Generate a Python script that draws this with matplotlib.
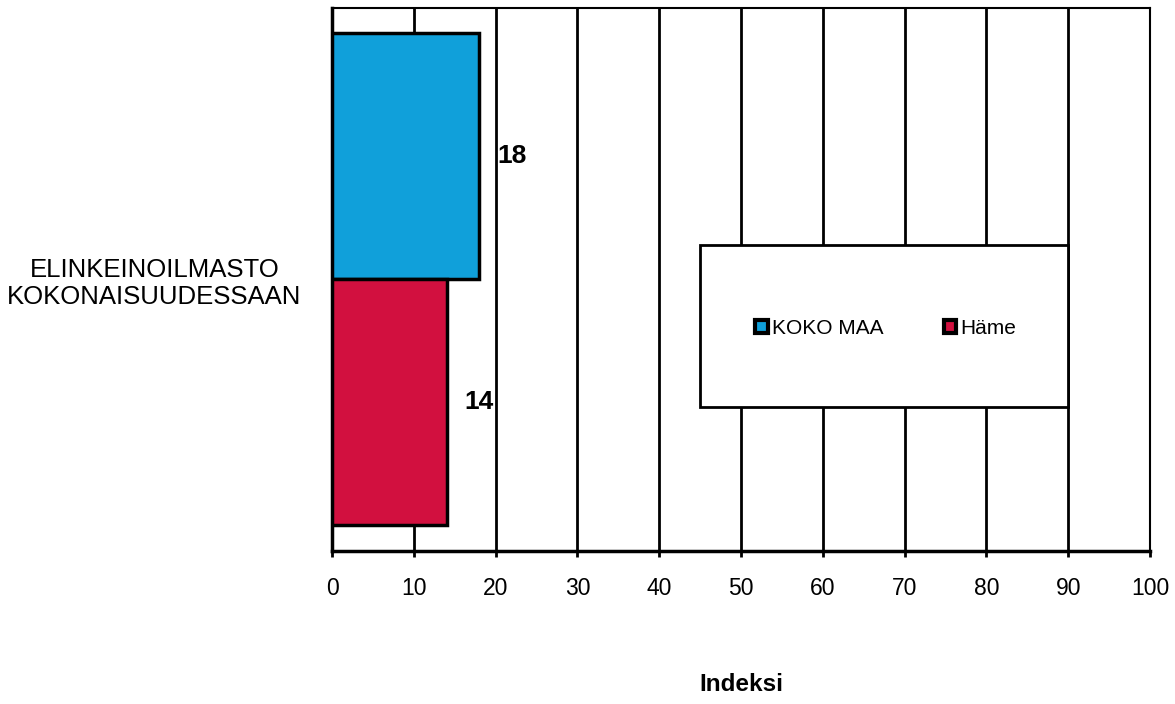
import matplotlib.pyplot as plt
from matplotlib.patches import Patch, Rectangle

plt.rcParams['font.family'] = ['Liberation Sans', 'DejaVu Sans']

category = "ELINKEINOILMASTO\nKOKONAISUUDESSAAN"
series = ["KOKO MAA", "Häme"]
values = [18, 14]
colors = ["#10A0DA", "#D2103F"]
xticks = list(range(0, 101, 10))

fig = plt.figure(figsize=(11.75, 7.04), dpi=100)
ax = fig.add_axes([0.2826, 0.2173, 0.6961, 0.7713])

# top series drawn at y=1, second at y=0
ypos = [1, 0]
for y, v, c, name in zip(ypos, values, colors, series):
    ax.barh(y, v, height=1.0, color=c, edgecolor='black', linewidth=2.5, zorder=3, label=name)
    ax.annotate(str(v), xy=(v, y), xytext=(18, 0), textcoords='offset pixels',
                ha='left', va='center', fontsize=19, fontweight='bold', zorder=4)

ax.set_xlim(0, 100)
ax.set_ylim(-0.606, 1.602)
ax.set_xticks(xticks)
ax.tick_params(axis='x', direction='out', length=4, width=2, pad=15, labelsize=16.5)
ax.set_yticks([0.5])
ax.set_yticklabels([category], fontsize=18.5, multialignment='center')
ax.tick_params(axis='y', length=0, pad=22)

for x in xticks[1:]:
    ax.axvline(x, color='black', linewidth=2, zorder=1)

ax.spines['bottom'].set_linewidth(2.5)
ax.spines['left'].set_linewidth(2.5)
ax.spines['top'].set_linewidth(1.5)
ax.spines['right'].set_linewidth(1.5)

ax.set_xlabel("Indeksi", fontsize=17.5, fontweight='bold', labelpad=52)

# legend box
box = Rectangle((0.45, 0.265), 0.45, 0.2985, transform=ax.transAxes,
                facecolor='white', edgecolor='black', linewidth=2, zorder=5)
ax.add_patch(box)
handles = [Patch(facecolor=c, edgecolor='black', linewidth=3) for c in colors]
leg = ax.legend(handles, series, loc='center', bbox_to_anchor=(0.677, 0.4107),
                ncol=2, frameon=False, fontsize=15, handlelength=0.6, handleheight=0.6,
                handletextpad=0.2, columnspacing=2.9)
leg.set_zorder(6)

fig.savefig("out.png", dpi=100)
